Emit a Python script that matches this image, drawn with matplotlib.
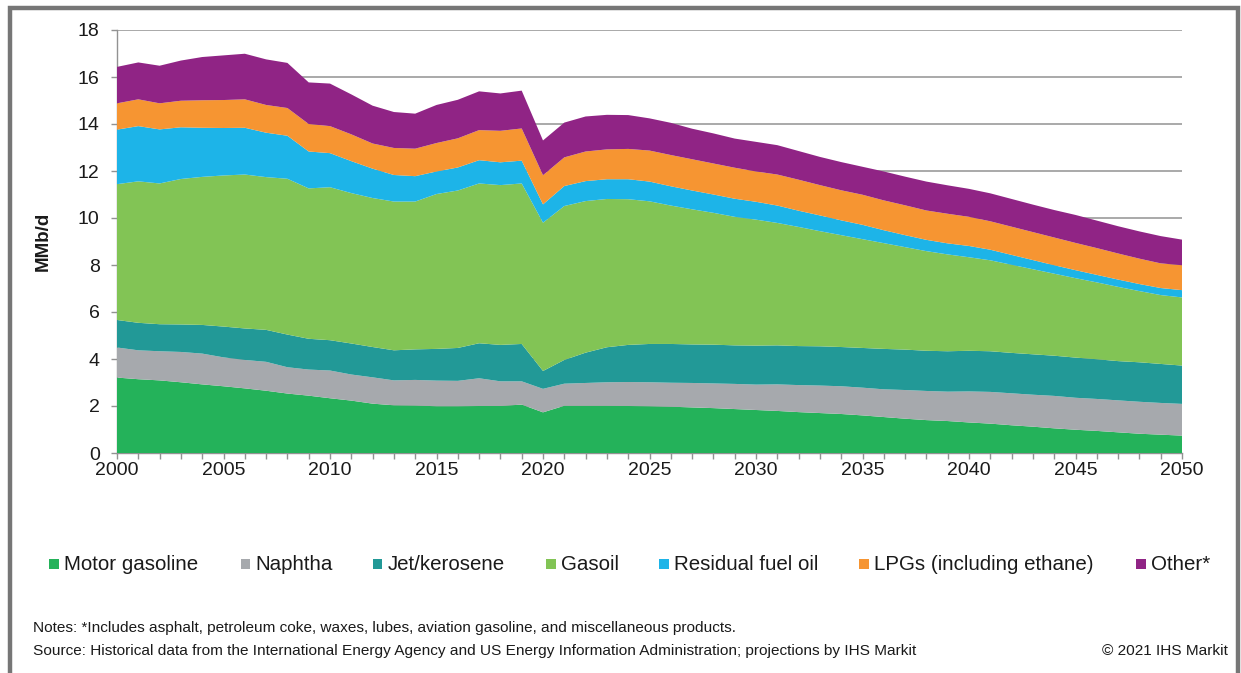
import matplotlib
matplotlib.use("Agg")
import matplotlib.pyplot as plt
from matplotlib.patches import Rectangle
from matplotlib.ticker import MultipleLocator

plt.rcParams['font.family'] = ['Liberation Sans', 'DejaVu Sans']

years = list(range(2000, 2051))

motor_gasoline = [3.21, 3.14, 3.09, 3.01, 2.92, 2.84, 2.75, 2.65, 2.53, 2.44,
                  2.33, 2.23, 2.10, 2.03, 2.02, 1.99, 1.99, 2.00, 2.00, 2.06,
                  1.73, 2.01, 2.01, 2.01, 2.00, 1.99, 1.97, 1.94, 1.91, 1.87,
                  1.83, 1.79, 1.74, 1.70, 1.66, 1.60, 1.53, 1.46, 1.40, 1.36,
                  1.30, 1.25, 1.18, 1.12, 1.05, 0.99, 0.94, 0.88, 0.82, 0.78,
                  0.74]
naphtha = [1.28, 1.23, 1.24, 1.29, 1.31, 1.23, 1.21, 1.23, 1.12, 1.11,
           1.18, 1.11, 1.12, 1.06, 1.09, 1.09, 1.08, 1.18, 1.05, 0.99,
           1.00, 0.94, 0.97, 1.00, 1.02, 1.02, 1.02, 1.04, 1.05, 1.07,
           1.08, 1.13, 1.15, 1.17, 1.18, 1.18, 1.18, 1.22, 1.24, 1.25,
           1.32, 1.35, 1.36, 1.36, 1.38, 1.36, 1.36, 1.36, 1.36, 1.35,
           1.35]
jet_kerosene = [1.17, 1.17, 1.15, 1.17, 1.22, 1.31, 1.34, 1.36, 1.39, 1.31,
                1.29, 1.32, 1.29, 1.28, 1.30, 1.35, 1.40, 1.49, 1.55, 1.59,
                0.76, 1.01, 1.29, 1.49, 1.58, 1.63, 1.65, 1.64, 1.65, 1.64,
                1.66, 1.66, 1.66, 1.67, 1.67, 1.69, 1.72, 1.72, 1.71, 1.72,
                1.73, 1.73, 1.72, 1.72, 1.71, 1.71, 1.69, 1.67, 1.68, 1.66,
                1.63]
gasoil = [5.78, 6.02, 5.99, 6.19, 6.30, 6.43, 6.55, 6.50, 6.63, 6.40,
          6.51, 6.40, 6.34, 6.33, 6.29, 6.59, 6.70, 6.80, 6.80, 6.83,
          6.31, 6.55, 6.45, 6.31, 6.20, 6.07, 5.89, 5.75, 5.61, 5.47,
          5.36, 5.21, 5.07, 4.90, 4.76, 4.63, 4.50, 4.36, 4.24, 4.12,
          3.98, 3.87, 3.75, 3.62, 3.49, 3.38, 3.27, 3.16, 3.03, 2.93,
          2.90]
residual_fuel_oil = [2.32, 2.35, 2.30, 2.20, 2.09, 2.02, 1.99, 1.89, 1.83, 1.57,
                     1.45, 1.36, 1.25, 1.13, 1.08, 0.96, 0.98, 0.99, 0.97, 0.97,
                     0.78, 0.85, 0.85, 0.84, 0.85, 0.84, 0.82, 0.80, 0.78, 0.77,
                     0.76, 0.74, 0.69, 0.67, 0.63, 0.61, 0.55, 0.51, 0.48, 0.47,
                     0.48, 0.45, 0.42, 0.39, 0.36, 0.34, 0.32, 0.31, 0.30, 0.30,
                     0.31]
lpgs = [1.12, 1.14, 1.11, 1.13, 1.17, 1.19, 1.21, 1.18, 1.18, 1.17,
        1.15, 1.14, 1.07, 1.15, 1.17, 1.21, 1.24, 1.28, 1.34, 1.37,
        1.24, 1.22, 1.26, 1.27, 1.29, 1.32, 1.33, 1.33, 1.32, 1.32,
        1.29, 1.32, 1.32, 1.29, 1.28, 1.28, 1.27, 1.27, 1.25, 1.26,
        1.24, 1.21, 1.20, 1.19, 1.18, 1.16, 1.14, 1.11, 1.08, 1.05,
        1.06]
other = [1.55, 1.57, 1.60, 1.71, 1.84, 1.90, 1.94, 1.94, 1.92, 1.77,
         1.81, 1.70, 1.61, 1.53, 1.49, 1.62, 1.64, 1.65, 1.59, 1.61,
         1.48, 1.48, 1.49, 1.47, 1.44, 1.37, 1.37, 1.30, 1.28, 1.24,
         1.26, 1.25, 1.22, 1.20, 1.20, 1.19, 1.23, 1.22, 1.23, 1.21,
         1.19, 1.19, 1.18, 1.17, 1.17, 1.19, 1.17, 1.16, 1.16, 1.16,
         1.09]

labels = ["Motor gasoline", "Naphtha", "Jet/kerosene", "Gasoil",
          "Residual fuel oil", "LPGs (including ethane)", "Other*"]
colors = ["#24B25A", "#A6A9AD", "#229997", "#82C455",
          "#1DB4E8", "#F69532", "#902485"]
x_tick_labels = ["2000", "2005", "2010", "2015", "2020", "2025",
                 "2030", "2035", "2040", "2045", "2050"]

W, H = 1241, 673
fig = plt.figure(figsize=(W / 100, H / 100), dpi=100)
ax = fig.add_axes([117 / W, (H - 453) / H, 1065 / W, 423 / H])

ax.stackplot(years, motor_gasoline, naphtha, jet_kerosene, gasoil,
             residual_fuel_oil, lpgs, other, colors=colors, linewidth=0,
             zorder=3)

ax.set_xlim(2000, 2050)
ax.set_ylim(0, 18)
ax.yaxis.set_major_locator(MultipleLocator(2))
ax.set_xticks([int(t) for t in x_tick_labels])
ax.set_xticklabels(x_tick_labels)
ax.xaxis.set_minor_locator(MultipleLocator(1))
ax.grid(axis='y', color='#929292', linewidth=1.1, zorder=1)
ax.set_axisbelow(True)
for s in ['top', 'right']:
    ax.spines[s].set_visible(False)
for s in ['left', 'bottom']:
    ax.spines[s].set_color('#929292')
    ax.spines[s].set_linewidth(1.0)
ax.tick_params(axis='y', which='major', length=4.5, width=1, color='#929292',
               labelsize=14, pad=8, labelcolor='#1a1a1a')
ax.tick_params(axis='x', which='major', length=4.5, width=1, color='#929292',
               labelsize=14, pad=2, labelcolor='#1a1a1a')
ax.tick_params(axis='x', which='minor', length=4.5, width=1, color='#929292')
ax.set_ylabel("MMb/d", fontsize=13.5, fontweight='bold', color='#1a1a1a',
              labelpad=19)

# Legend (manual placement)
leg_marker_x = [49, 240.5, 372.5, 546, 659, 859, 1136]
leg_y = 564
msize = 9.5
for xm, lab, col in zip(leg_marker_x, labels, colors):
    fig.patches.append(Rectangle((xm / W, (H - leg_y - msize / 2) / H),
                                 msize / W, msize / H,
                                 transform=fig.transFigure, facecolor=col,
                                 edgecolor='none'))
    fig.text((xm + 15) / W, (H - leg_y) / H, lab, fontsize=14.8,
             color='#1a1a1a', va='center', ha='left')

fig.text(33 / W, (H - 628) / H,
         "Notes: *Includes asphalt, petroleum coke, waxes, lubes, aviation "
         "gasoline, and miscellaneous products.",
         fontsize=11.1, color='#1a1a1a', va='center', ha='left')
fig.text(33 / W, (H - 651) / H,
         "Source: Historical data from the International Energy Agency and US "
         "Energy Information Administration; projections by IHS Markit",
         fontsize=11.1, color='#1a1a1a', va='center', ha='left')
fig.text(1228 / W, (H - 651) / H, "\u00a9 2021 IHS Markit",
         fontsize=11.1, color='#1a1a1a', va='center', ha='right')

# Outer frame
fig.patches.append(Rectangle((10 / W, -0.05), 1228 / W, (H - 8) / H + 0.05,
                             transform=fig.transFigure, facecolor='none',
                             edgecolor='#767676', linewidth=3.2,
                             clip_on=False))

fig.savefig("out.png", dpi=100)
